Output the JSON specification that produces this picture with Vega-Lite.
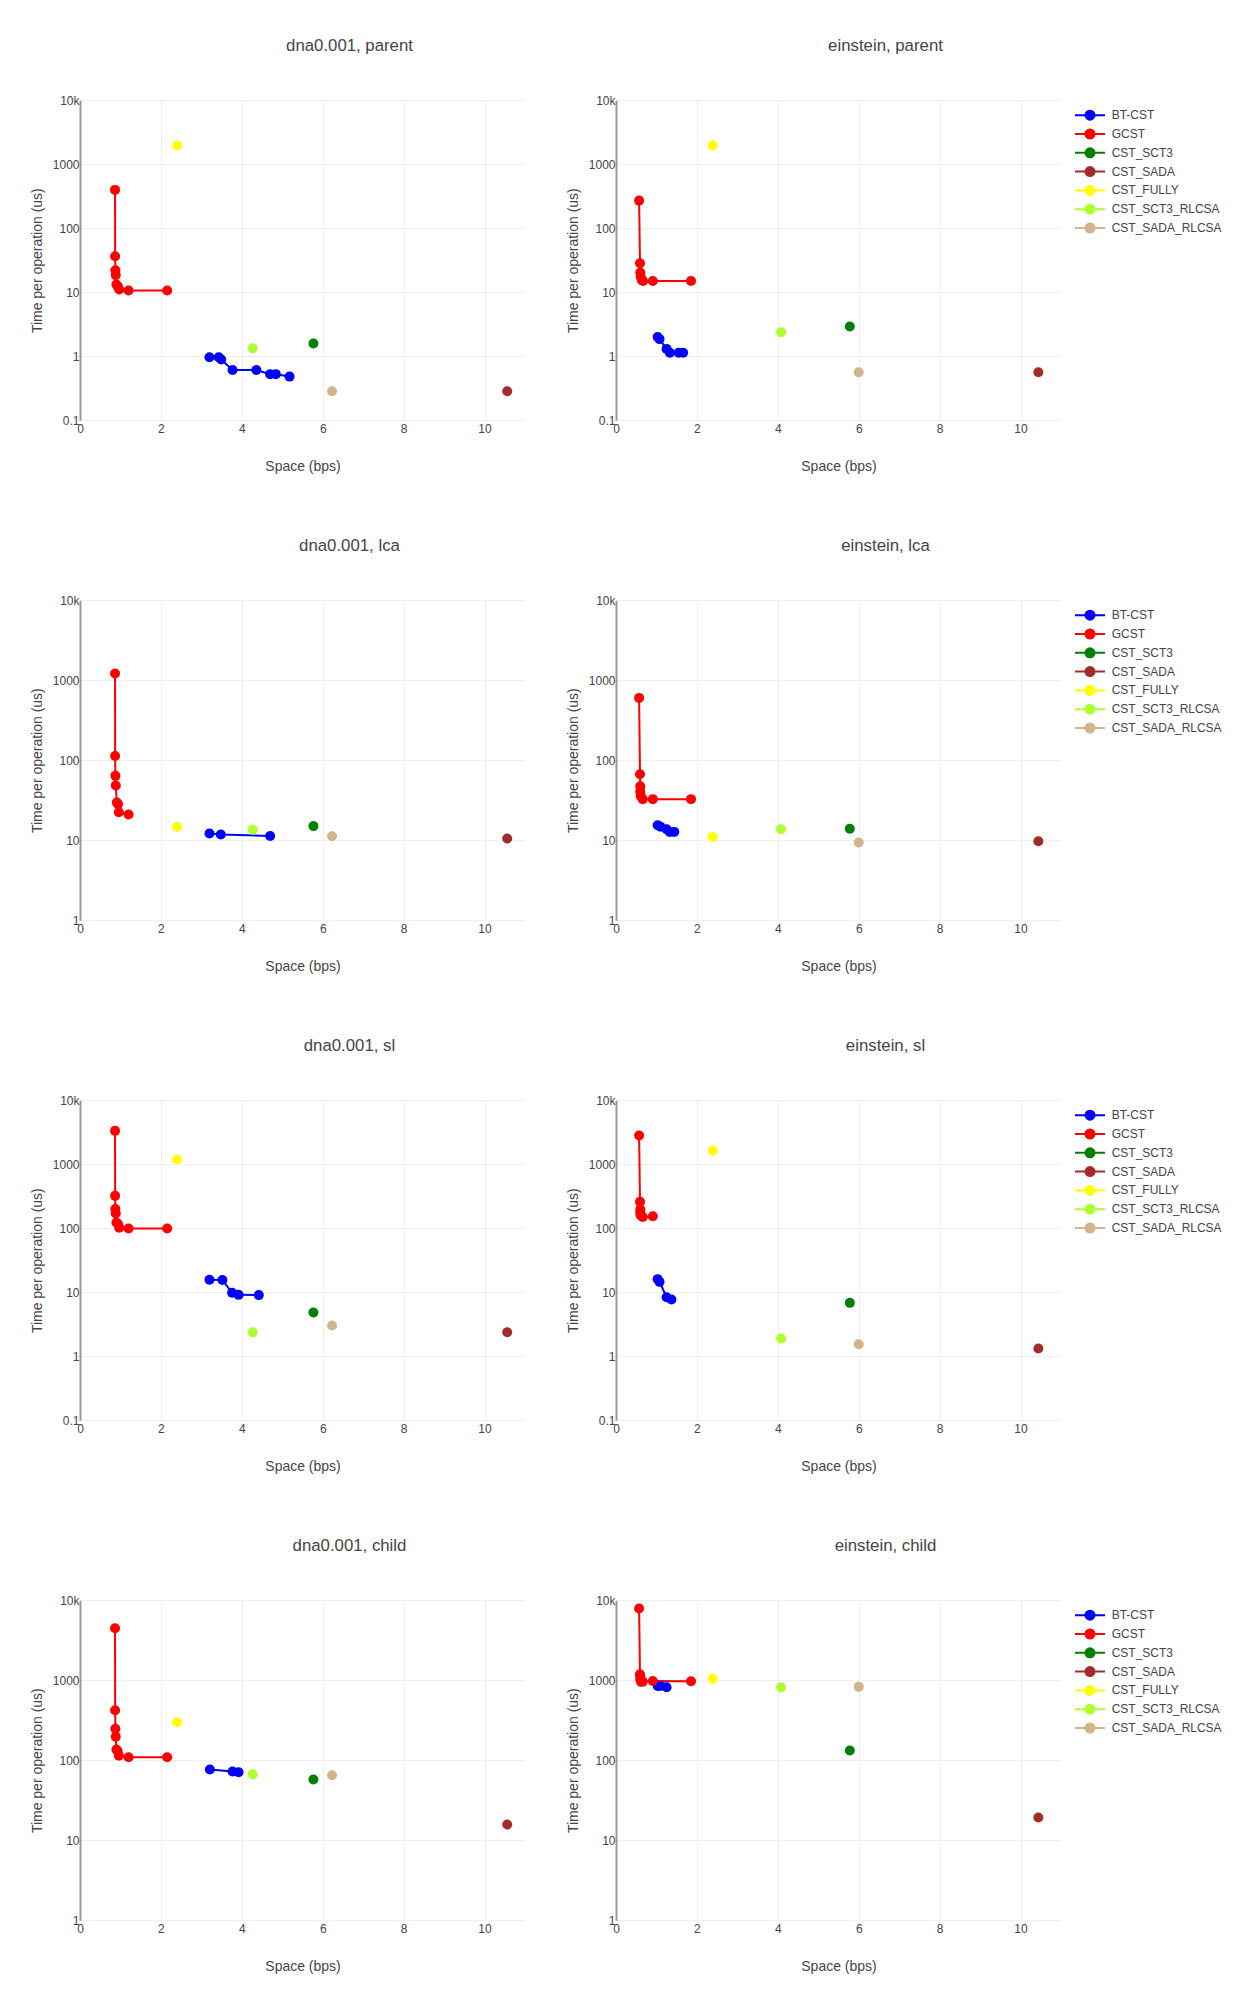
{
"$schema": "https://vega.github.io/schema/vega-lite/v6.json",
"padding": {"left": 30, "top": 37.2, "right": 5, "bottom": 5},
"background": "white",
"data": {"values": [
{"p":"dp","s":"BT-CST","x":3.20,"y":0.964,"i":0},{"p":"dp","s":"BT-CST","x":3.43,"y":0.96,"i":1},{"p":"dp","s":"BT-CST","x":3.49,"y":0.887,"i":2},{"p":"dp","s":"BT-CST","x":3.77,"y":0.61,"i":3},{"p":"dp","s":"BT-CST","x":4.36,"y":0.61,"i":4},{"p":"dp","s":"BT-CST","x":4.70,"y":0.524,"i":5},{"p":"dp","s":"BT-CST","x":4.84,"y":0.524,"i":6},{"p":"dp","s":"BT-CST","x":5.18,"y":0.48,"i":7},
{"p":"dp","s":"GCST","x":0.866,"y":397,"i":0},{"p":"dp","s":"GCST","x":0.868,"y":36.5,"i":1},{"p":"dp","s":"GCST","x":0.875,"y":22,"i":2},{"p":"dp","s":"GCST","x":0.884,"y":18.5,"i":3},{"p":"dp","s":"GCST","x":0.90,"y":13.2,"i":4},{"p":"dp","s":"GCST","x":0.94,"y":12.1,"i":5},{"p":"dp","s":"GCST","x":0.97,"y":11.0,"i":6},{"p":"dp","s":"GCST","x":1.20,"y":10.6,"i":7},{"p":"dp","s":"GCST","x":2.155,"y":10.6,"i":8},
{"p":"dp","s":"CST_SCT3","x":5.77,"y":1.58,"i":0},{"p":"dp","s":"CST_SADA","x":10.56,"y":0.284,"i":0},{"p":"dp","s":"CST_FULLY","x":2.40,"y":1958,"i":0},{"p":"dp","s":"CST_SCT3_RLCSA","x":4.27,"y":1.33,"i":0},{"p":"dp","s":"CST_SADA_RLCSA","x":6.23,"y":0.284,"i":0},

{"p":"ep","s":"BT-CST","x":1.03,"y":2.0,"i":0},{"p":"ep","s":"BT-CST","x":1.076,"y":1.85,"i":1},{"p":"ep","s":"BT-CST","x":1.25,"y":1.30,"i":2},{"p":"ep","s":"BT-CST","x":1.33,"y":1.13,"i":3},{"p":"ep","s":"BT-CST","x":1.55,"y":1.13,"i":4},{"p":"ep","s":"BT-CST","x":1.66,"y":1.13,"i":5},
{"p":"ep","s":"GCST","x":0.571,"y":270,"i":0},{"p":"ep","s":"GCST","x":0.593,"y":28.4,"i":1},{"p":"ep","s":"GCST","x":0.60,"y":20.3,"i":2},{"p":"ep","s":"GCST","x":0.61,"y":17.4,"i":3},{"p":"ep","s":"GCST","x":0.64,"y":15.4,"i":4},{"p":"ep","s":"GCST","x":0.67,"y":15.0,"i":5},{"p":"ep","s":"GCST","x":0.91,"y":15.0,"i":6},{"p":"ep","s":"GCST","x":1.855,"y":15.0,"i":7},
{"p":"ep","s":"CST_SCT3","x":5.78,"y":2.91,"i":0},{"p":"ep","s":"CST_SADA","x":10.44,"y":0.56,"i":0},{"p":"ep","s":"CST_FULLY","x":2.39,"y":1958,"i":0},{"p":"ep","s":"CST_SCT3_RLCSA","x":4.08,"y":2.37,"i":0},{"p":"ep","s":"CST_SADA_RLCSA","x":6.00,"y":0.56,"i":0},

{"p":"dl","s":"BT-CST","x":3.20,"y":12.1,"i":0},{"p":"dl","s":"BT-CST","x":3.48,"y":11.8,"i":1},{"p":"dl","s":"BT-CST","x":4.70,"y":11.3,"i":2},
{"p":"dl","s":"GCST","x":0.866,"y":1212,"i":0},{"p":"dl","s":"GCST","x":0.868,"y":113,"i":1},{"p":"dl","s":"GCST","x":0.875,"y":63.7,"i":2},{"p":"dl","s":"GCST","x":0.884,"y":48.2,"i":3},{"p":"dl","s":"GCST","x":0.91,"y":29.6,"i":4},{"p":"dl","s":"GCST","x":0.94,"y":28.2,"i":5},{"p":"dl","s":"GCST","x":0.96,"y":22.4,"i":6},{"p":"dl","s":"GCST","x":1.20,"y":20.9,"i":7},
{"p":"dl","s":"CST_SCT3","x":5.77,"y":15.0,"i":0},{"p":"dl","s":"CST_SADA","x":10.56,"y":10.5,"i":0},{"p":"dl","s":"CST_FULLY","x":2.40,"y":14.7,"i":0},{"p":"dl","s":"CST_SCT3_RLCSA","x":4.27,"y":13.5,"i":0},{"p":"dl","s":"CST_SADA_RLCSA","x":6.23,"y":11.2,"i":0},

{"p":"el","s":"BT-CST","x":1.03,"y":15.4,"i":0},{"p":"el","s":"BT-CST","x":1.10,"y":14.7,"i":1},{"p":"el","s":"BT-CST","x":1.25,"y":13.7,"i":2},{"p":"el","s":"BT-CST","x":1.33,"y":12.7,"i":3},{"p":"el","s":"BT-CST","x":1.44,"y":12.7,"i":4},
{"p":"el","s":"GCST","x":0.571,"y":601,"i":0},{"p":"el","s":"GCST","x":0.593,"y":66.8,"i":1},{"p":"el","s":"GCST","x":0.60,"y":47.3,"i":2},{"p":"el","s":"GCST","x":0.60,"y":40.2,"i":3},{"p":"el","s":"GCST","x":0.61,"y":35.8,"i":4},{"p":"el","s":"GCST","x":0.66,"y":32.6,"i":5},{"p":"el","s":"GCST","x":0.91,"y":32.6,"i":6},{"p":"el","s":"GCST","x":1.855,"y":32.6,"i":7},
{"p":"el","s":"CST_SCT3","x":5.78,"y":13.9,"i":0},{"p":"el","s":"CST_SADA","x":10.44,"y":9.7,"i":0},{"p":"el","s":"CST_FULLY","x":2.39,"y":11.0,"i":0},{"p":"el","s":"CST_SCT3_RLCSA","x":4.08,"y":13.7,"i":0},{"p":"el","s":"CST_SADA_RLCSA","x":6.00,"y":9.35,"i":0},

{"p":"ds","s":"BT-CST","x":3.20,"y":15.6,"i":0},{"p":"ds","s":"BT-CST","x":3.52,"y":15.5,"i":1},{"p":"ds","s":"BT-CST","x":3.76,"y":9.77,"i":2},{"p":"ds","s":"BT-CST","x":3.92,"y":9.08,"i":3},{"p":"ds","s":"BT-CST","x":4.42,"y":9.0,"i":4},
{"p":"ds","s":"GCST","x":0.866,"y":3320,"i":0},{"p":"ds","s":"GCST","x":0.868,"y":320,"i":1},{"p":"ds","s":"GCST","x":0.875,"y":200,"i":2},{"p":"ds","s":"GCST","x":0.884,"y":170,"i":3},{"p":"ds","s":"GCST","x":0.90,"y":123,"i":4},{"p":"ds","s":"GCST","x":0.94,"y":116,"i":5},{"p":"ds","s":"GCST","x":0.97,"y":102,"i":6},{"p":"ds","s":"GCST","x":1.20,"y":98.9,"i":7},{"p":"ds","s":"GCST","x":2.155,"y":98.9,"i":8},
{"p":"ds","s":"CST_SCT3","x":5.77,"y":4.81,"i":0},{"p":"ds","s":"CST_SADA","x":10.56,"y":2.37,"i":0},{"p":"ds","s":"CST_FULLY","x":2.40,"y":1183,"i":0},{"p":"ds","s":"CST_SCT3_RLCSA","x":4.27,"y":2.37,"i":0},{"p":"ds","s":"CST_SADA_RLCSA","x":6.23,"y":3.01,"i":0},

{"p":"es","s":"BT-CST","x":1.03,"y":16.0,"i":0},{"p":"es","s":"BT-CST","x":1.076,"y":14.5,"i":1},{"p":"es","s":"BT-CST","x":1.25,"y":8.36,"i":2},{"p":"es","s":"BT-CST","x":1.37,"y":7.68,"i":3},
{"p":"es","s":"GCST","x":0.571,"y":2805,"i":0},{"p":"es","s":"GCST","x":0.593,"y":258,"i":1},{"p":"es","s":"GCST","x":0.60,"y":196,"i":2},{"p":"es","s":"GCST","x":0.60,"y":174,"i":3},{"p":"es","s":"GCST","x":0.61,"y":160,"i":4},{"p":"es","s":"GCST","x":0.66,"y":150,"i":5},{"p":"es","s":"GCST","x":0.91,"y":154,"i":6},
{"p":"es","s":"CST_SCT3","x":5.78,"y":6.81,"i":0},{"p":"es","s":"CST_SADA","x":10.44,"y":1.32,"i":0},{"p":"es","s":"CST_FULLY","x":2.39,"y":1637,"i":0},{"p":"es","s":"CST_SCT3_RLCSA","x":4.08,"y":1.89,"i":0},{"p":"es","s":"CST_SADA_RLCSA","x":6.00,"y":1.54,"i":0},

{"p":"dc","s":"BT-CST","x":3.21,"y":76.5,"i":0},{"p":"dc","s":"BT-CST","x":3.77,"y":72.2,"i":1},{"p":"dc","s":"BT-CST","x":3.92,"y":70.8,"i":2},
{"p":"dc","s":"GCST","x":0.866,"y":4467,"i":0},{"p":"dc","s":"GCST","x":0.868,"y":422,"i":1},{"p":"dc","s":"GCST","x":0.875,"y":247,"i":2},{"p":"dc","s":"GCST","x":0.884,"y":196,"i":3},{"p":"dc","s":"GCST","x":0.90,"y":136,"i":4},{"p":"dc","s":"GCST","x":0.93,"y":130,"i":5},{"p":"dc","s":"GCST","x":0.96,"y":114,"i":6},{"p":"dc","s":"GCST","x":1.20,"y":109,"i":7},{"p":"dc","s":"GCST","x":2.155,"y":109,"i":8},
{"p":"dc","s":"CST_SCT3","x":5.77,"y":57.3,"i":0},{"p":"dc","s":"CST_SADA","x":10.56,"y":15.7,"i":0},{"p":"dc","s":"CST_FULLY","x":2.40,"y":299,"i":0},{"p":"dc","s":"CST_SCT3_RLCSA","x":4.27,"y":66.8,"i":0},{"p":"dc","s":"CST_SADA_RLCSA","x":6.23,"y":64.9,"i":0},

{"p":"ec","s":"BT-CST","x":1.03,"y":849,"i":0},{"p":"ec","s":"BT-CST","x":1.09,"y":849,"i":1},{"p":"ec","s":"BT-CST","x":1.25,"y":818,"i":2},
{"p":"ec","s":"GCST","x":0.571,"y":7870,"i":0},{"p":"ec","s":"GCST","x":0.593,"y":1189,"i":1},{"p":"ec","s":"GCST","x":0.60,"y":1101,"i":2},{"p":"ec","s":"GCST","x":0.60,"y":1019,"i":3},{"p":"ec","s":"GCST","x":0.62,"y":953,"i":4},{"p":"ec","s":"GCST","x":0.66,"y":960,"i":5},{"p":"ec","s":"GCST","x":0.91,"y":975,"i":6},{"p":"ec","s":"GCST","x":1.855,"y":972,"i":7},
{"p":"ec","s":"CST_SCT3","x":5.78,"y":132,"i":0},{"p":"ec","s":"CST_SADA","x":10.44,"y":19.2,"i":0},{"p":"ec","s":"CST_FULLY","x":2.39,"y":1040,"i":0},{"p":"ec","s":"CST_SCT3_RLCSA","x":4.08,"y":818,"i":0},{"p":"ec","s":"CST_SADA_RLCSA","x":6.00,"y":825,"i":0}
]},
"columns": 2,
"bounds": "flush",
"spacing": {"row": 180, "column": 91},
"resolve": {"scale": {"color": "independent", "x": "independent", "y": "independent"}, "legend": {"color": "independent"}},
"concat": [
{"width": 445, "height": 320, "title": "dna0.001, parent",
 "transform": [{"filter": "datum.p === 'dp'"}],
 "encoding": {
  "x": {"field": "x", "type": "quantitative", "scale": {"domain": [0, 11], "nice": false, "zero": false}, "axis": {"values": [0,2,4,6,8,10], "title": "Space (bps)"}},
  "y": {"field": "y", "type": "quantitative", "scale": {"type": "log", "domain": [0.1, 10000], "nice": false}, "axis": {"values": [0.1,1,10,100,1000,10000], "format": "~g", "labelExpr": "datum.value >= 10000 ? '10k' : datum.label", "title": "Time per operation (us)"}},
  "color": {"field": "s", "type": "nominal", "title": null, "scale": {"domain": ["BT-CST","GCST","CST_SCT3","CST_SADA","CST_FULLY","CST_SCT3_RLCSA","CST_SADA_RLCSA"], "range": ["#0000ff","#ff0000","#008000","#a52a2a","#ffff00","#adff2f","#d2b48c"]}, "legend": null}
 },
 "layer": [
  {"mark": {"type": "line", "strokeWidth": 2}, "encoding": {"order": {"field": "i", "type": "quantitative"}}},
  {"mark": {"type": "point", "filled": true, "size": 100, "opacity": 1}}
 ]},
{"width": 445, "height": 320, "title": "einstein, parent",
 "transform": [{"filter": "datum.p === 'ep'"}],
 "encoding": {
  "x": {"field": "x", "type": "quantitative", "scale": {"domain": [0, 11], "nice": false, "zero": false}, "axis": {"values": [0,2,4,6,8,10], "title": "Space (bps)"}},
  "y": {"field": "y", "type": "quantitative", "scale": {"type": "log", "domain": [0.1, 10000], "nice": false}, "axis": {"values": [0.1,1,10,100,1000,10000], "format": "~g", "labelExpr": "datum.value >= 10000 ? '10k' : datum.label", "title": "Time per operation (us)"}},
  "color": {"field": "s", "type": "nominal", "title": null, "scale": {"domain": ["BT-CST","GCST","CST_SCT3","CST_SADA","CST_FULLY","CST_SCT3_RLCSA","CST_SADA_RLCSA"], "range": ["#0000ff","#ff0000","#008000","#a52a2a","#ffff00","#adff2f","#d2b48c"]}}
 },
 "layer": [
  {"mark": {"type": "line", "strokeWidth": 2}, "encoding": {"order": {"field": "i", "type": "quantitative"}}},
  {"mark": {"type": "point", "filled": true, "size": 100, "opacity": 1}}
 ]},
{"width": 445, "height": 320, "title": "dna0.001, lca",
 "transform": [{"filter": "datum.p === 'dl'"}],
 "encoding": {
  "x": {"field": "x", "type": "quantitative", "scale": {"domain": [0, 11], "nice": false, "zero": false}, "axis": {"values": [0,2,4,6,8,10], "title": "Space (bps)"}},
  "y": {"field": "y", "type": "quantitative", "scale": {"type": "log", "domain": [1, 10000], "nice": false}, "axis": {"values": [1,10,100,1000,10000], "format": "~g", "labelExpr": "datum.value >= 10000 ? '10k' : datum.label", "title": "Time per operation (us)"}},
  "color": {"field": "s", "type": "nominal", "title": null, "scale": {"domain": ["BT-CST","GCST","CST_SCT3","CST_SADA","CST_FULLY","CST_SCT3_RLCSA","CST_SADA_RLCSA"], "range": ["#0000ff","#ff0000","#008000","#a52a2a","#ffff00","#adff2f","#d2b48c"]}, "legend": null}
 },
 "layer": [
  {"mark": {"type": "line", "strokeWidth": 2}, "encoding": {"order": {"field": "i", "type": "quantitative"}}},
  {"mark": {"type": "point", "filled": true, "size": 100, "opacity": 1}}
 ]},
{"width": 445, "height": 320, "title": "einstein, lca",
 "transform": [{"filter": "datum.p === 'el'"}],
 "encoding": {
  "x": {"field": "x", "type": "quantitative", "scale": {"domain": [0, 11], "nice": false, "zero": false}, "axis": {"values": [0,2,4,6,8,10], "title": "Space (bps)"}},
  "y": {"field": "y", "type": "quantitative", "scale": {"type": "log", "domain": [1, 10000], "nice": false}, "axis": {"values": [1,10,100,1000,10000], "format": "~g", "labelExpr": "datum.value >= 10000 ? '10k' : datum.label", "title": "Time per operation (us)"}},
  "color": {"field": "s", "type": "nominal", "title": null, "scale": {"domain": ["BT-CST","GCST","CST_SCT3","CST_SADA","CST_FULLY","CST_SCT3_RLCSA","CST_SADA_RLCSA"], "range": ["#0000ff","#ff0000","#008000","#a52a2a","#ffff00","#adff2f","#d2b48c"]}}
 },
 "layer": [
  {"mark": {"type": "line", "strokeWidth": 2}, "encoding": {"order": {"field": "i", "type": "quantitative"}}},
  {"mark": {"type": "point", "filled": true, "size": 100, "opacity": 1}}
 ]},
{"width": 445, "height": 320, "title": "dna0.001, sl",
 "transform": [{"filter": "datum.p === 'ds'"}],
 "encoding": {
  "x": {"field": "x", "type": "quantitative", "scale": {"domain": [0, 11], "nice": false, "zero": false}, "axis": {"values": [0,2,4,6,8,10], "title": "Space (bps)"}},
  "y": {"field": "y", "type": "quantitative", "scale": {"type": "log", "domain": [0.1, 10000], "nice": false}, "axis": {"values": [0.1,1,10,100,1000,10000], "format": "~g", "labelExpr": "datum.value >= 10000 ? '10k' : datum.label", "title": "Time per operation (us)"}},
  "color": {"field": "s", "type": "nominal", "title": null, "scale": {"domain": ["BT-CST","GCST","CST_SCT3","CST_SADA","CST_FULLY","CST_SCT3_RLCSA","CST_SADA_RLCSA"], "range": ["#0000ff","#ff0000","#008000","#a52a2a","#ffff00","#adff2f","#d2b48c"]}, "legend": null}
 },
 "layer": [
  {"mark": {"type": "line", "strokeWidth": 2}, "encoding": {"order": {"field": "i", "type": "quantitative"}}},
  {"mark": {"type": "point", "filled": true, "size": 100, "opacity": 1}}
 ]},
{"width": 445, "height": 320, "title": "einstein, sl",
 "transform": [{"filter": "datum.p === 'es'"}],
 "encoding": {
  "x": {"field": "x", "type": "quantitative", "scale": {"domain": [0, 11], "nice": false, "zero": false}, "axis": {"values": [0,2,4,6,8,10], "title": "Space (bps)"}},
  "y": {"field": "y", "type": "quantitative", "scale": {"type": "log", "domain": [0.1, 10000], "nice": false}, "axis": {"values": [0.1,1,10,100,1000,10000], "format": "~g", "labelExpr": "datum.value >= 10000 ? '10k' : datum.label", "title": "Time per operation (us)"}},
  "color": {"field": "s", "type": "nominal", "title": null, "scale": {"domain": ["BT-CST","GCST","CST_SCT3","CST_SADA","CST_FULLY","CST_SCT3_RLCSA","CST_SADA_RLCSA"], "range": ["#0000ff","#ff0000","#008000","#a52a2a","#ffff00","#adff2f","#d2b48c"]}}
 },
 "layer": [
  {"mark": {"type": "line", "strokeWidth": 2}, "encoding": {"order": {"field": "i", "type": "quantitative"}}},
  {"mark": {"type": "point", "filled": true, "size": 100, "opacity": 1}}
 ]},
{"width": 445, "height": 320, "title": "dna0.001, child",
 "transform": [{"filter": "datum.p === 'dc'"}],
 "encoding": {
  "x": {"field": "x", "type": "quantitative", "scale": {"domain": [0, 11], "nice": false, "zero": false}, "axis": {"values": [0,2,4,6,8,10], "title": "Space (bps)"}},
  "y": {"field": "y", "type": "quantitative", "scale": {"type": "log", "domain": [1, 10000], "nice": false}, "axis": {"values": [1,10,100,1000,10000], "format": "~g", "labelExpr": "datum.value >= 10000 ? '10k' : datum.label", "title": "Time per operation (us)"}},
  "color": {"field": "s", "type": "nominal", "title": null, "scale": {"domain": ["BT-CST","GCST","CST_SCT3","CST_SADA","CST_FULLY","CST_SCT3_RLCSA","CST_SADA_RLCSA"], "range": ["#0000ff","#ff0000","#008000","#a52a2a","#ffff00","#adff2f","#d2b48c"]}, "legend": null}
 },
 "layer": [
  {"mark": {"type": "line", "strokeWidth": 2}, "encoding": {"order": {"field": "i", "type": "quantitative"}}},
  {"mark": {"type": "point", "filled": true, "size": 100, "opacity": 1}}
 ]},
{"width": 445, "height": 320, "title": "einstein, child",
 "transform": [{"filter": "datum.p === 'ec'"}],
 "encoding": {
  "x": {"field": "x", "type": "quantitative", "scale": {"domain": [0, 11], "nice": false, "zero": false}, "axis": {"values": [0,2,4,6,8,10], "title": "Space (bps)"}},
  "y": {"field": "y", "type": "quantitative", "scale": {"type": "log", "domain": [1, 10000], "nice": false}, "axis": {"values": [1,10,100,1000,10000], "format": "~g", "labelExpr": "datum.value >= 10000 ? '10k' : datum.label", "title": "Time per operation (us)"}},
  "color": {"field": "s", "type": "nominal", "title": null, "scale": {"domain": ["BT-CST","GCST","CST_SCT3","CST_SADA","CST_FULLY","CST_SCT3_RLCSA","CST_SADA_RLCSA"], "range": ["#0000ff","#ff0000","#008000","#a52a2a","#ffff00","#adff2f","#d2b48c"]}}
 },
 "layer": [
  {"mark": {"type": "line", "strokeWidth": 2}, "encoding": {"order": {"field": "i", "type": "quantitative"}}},
  {"mark": {"type": "point", "filled": true, "size": 100, "opacity": 1}}
 ]}
],
"config": {
 "font": "Liberation Sans",
 "view": {"stroke": null},
 "title": {"fontSize": 16.8, "fontWeight": "normal", "color": "#444444", "anchor": "middle", "frame": "group", "offset": 39.8, "dx": 47},
 "axis": {"labelFont": "Liberation Sans", "labelFontSize": 12, "labelColor": "#444444", "labelFlush": false, "titleFont": "Liberation Sans", "titleFontSize": 14, "titleFontWeight": "normal", "titleColor": "#444444", "gridColor": "#eeeeee", "gridWidth": 1, "ticks": false, "tickSize": 0},
 "axisX": {"domain": false, "labelPadding": 3, "titlePadding": 25},
 "axisY": {"domain": true, "domainColor": "#999999", "domainWidth": 2, "labelPadding": 1, "titlePadding": 8, "labelBaseline": "middle"},
 "legend": {"orient": "right", "offset": 14, "padding": 8, "labelFont": "Liberation Sans", "labelFontSize": 12, "labelColor": "#444444", "symbolType": "M-2.5,0L2.5,0M-0.75,0A0.75,0.75,0,1,1,0.75,0A0.75,0.75,0,1,1,-0.75,0Z", "symbolSize": 144, "symbolStrokeWidth": 2, "symbolOpacity": 1, "rowPadding": 0.8, "labelOffset": 14.7}
}
}
